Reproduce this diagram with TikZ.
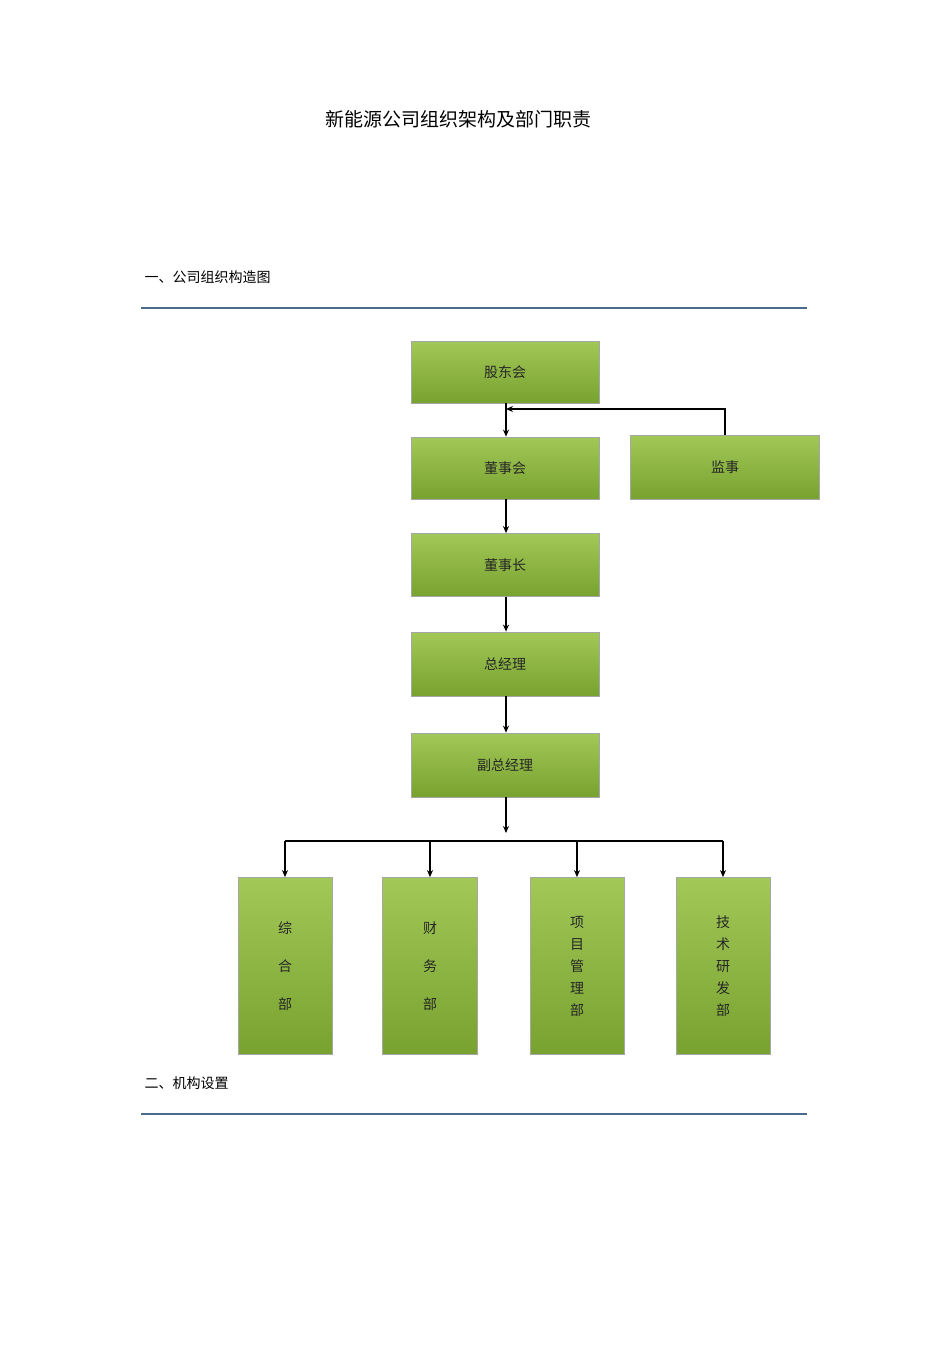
\documentclass[tikz,border=0pt]{standalone}
\usepackage{fontspec}
\setmainfont{Noto Sans CJK SC}
\usetikzlibrary{arrows.meta}
\definecolor{gtop}{HTML}{A2C858}
\definecolor{gbot}{HTML}{78A22F}
\definecolor{rule}{HTML}{4A6A8C}
\tikzset{
 x=1pt,y=-1pt,
 box/.style={draw=gray!70,line width=0.8pt,top color=gtop,bottom color=gbot,inner sep=0pt,font=\fontsize{14}{16}\selectfont,text=black!85},
 conn/.style={line width=1.2pt,-{Stealth[length=7pt,width=6pt]}},
 seg/.style={line width=1.2pt}
}
\begin{document}
\begin{tikzpicture}
\useasboundingbox[fill=white] (0,0) rectangle (950,1345);
\node[font=\fontsize{19}{22}\selectfont] (title) at (458,119) {新能源公司组织架构及部门职责};
\node[anchor=west,font=\fontsize{14}{16}\selectfont] (h1) at (141,277) {一、公司组织构造图};
\node[anchor=west,font=\fontsize{14}{16}\selectfont] (h2) at (141,1083) {二、机构设置};
\draw[rule,line width=1.5pt] (141,308) -- (807,308);
\draw[rule,line width=1.5pt] (141,1114) -- (807,1114);
\node[box,minimum width=188,minimum height=62] (gd) at (505,372) {股东会};
\node[box,minimum width=188,minimum height=62] (dsh) at (505,468) {董事会};
\node[box,minimum width=189,minimum height=64] (js) at (725,467) {监事};
\node[box,minimum width=188,minimum height=63] (dsz) at (505,565) {董事长};
\node[box,minimum width=188,minimum height=64] (zjl) at (505,664) {总经理};
\node[box,minimum width=188,minimum height=64] (fzjl) at (505,765) {副总经理};
\node[box,minimum width=94,minimum height=177,align=center] (b1) at (285,966) {综\\[22pt]合\\[22pt]部};
\node[box,minimum width=95,minimum height=177,align=center] (b2) at (430,966) {财\\[22pt]务\\[22pt]部};
\node[box,minimum width=94,minimum height=177,align=center] (b3) at (577,966) {项\\[6pt]目\\[6pt]管\\[6pt]理\\[6pt]部};
\node[box,minimum width=94,minimum height=177,align=center] (b4) at (723,966) {技\\[6pt]术\\[6pt]研\\[6pt]发\\[6pt]部};
\draw[conn] (gd.south -| 506,0) -- (dsh.north -| 506,0);
\coordinate (jn) at (506,409);
\draw[conn] (js.north) |- (jn);
\draw[conn] (dsh.south -| 506,0) -- (dsz.north -| 506,0);
\draw[conn] (dsz.south -| 506,0) -- (zjl.north -| 506,0);
\draw[conn] (zjl.south -| 506,0) -- (fzjl.north -| 506,0);
\coordinate (dv) at (506,833);
\draw[conn] (fzjl.south -| 506,0) -- (dv);
\coordinate (hl) at (285,841);
\coordinate (hr) at (723,841);
\draw[seg] (hl) -- (hr);
\draw[conn] (hl) -- (b1.north);
\draw[conn] (b2.north |- hl) -- (b2.north);
\draw[conn] (b3.north |- hl) -- (b3.north);
\draw[conn] (hr) -- (b4.north);
\end{tikzpicture}
\end{document}
